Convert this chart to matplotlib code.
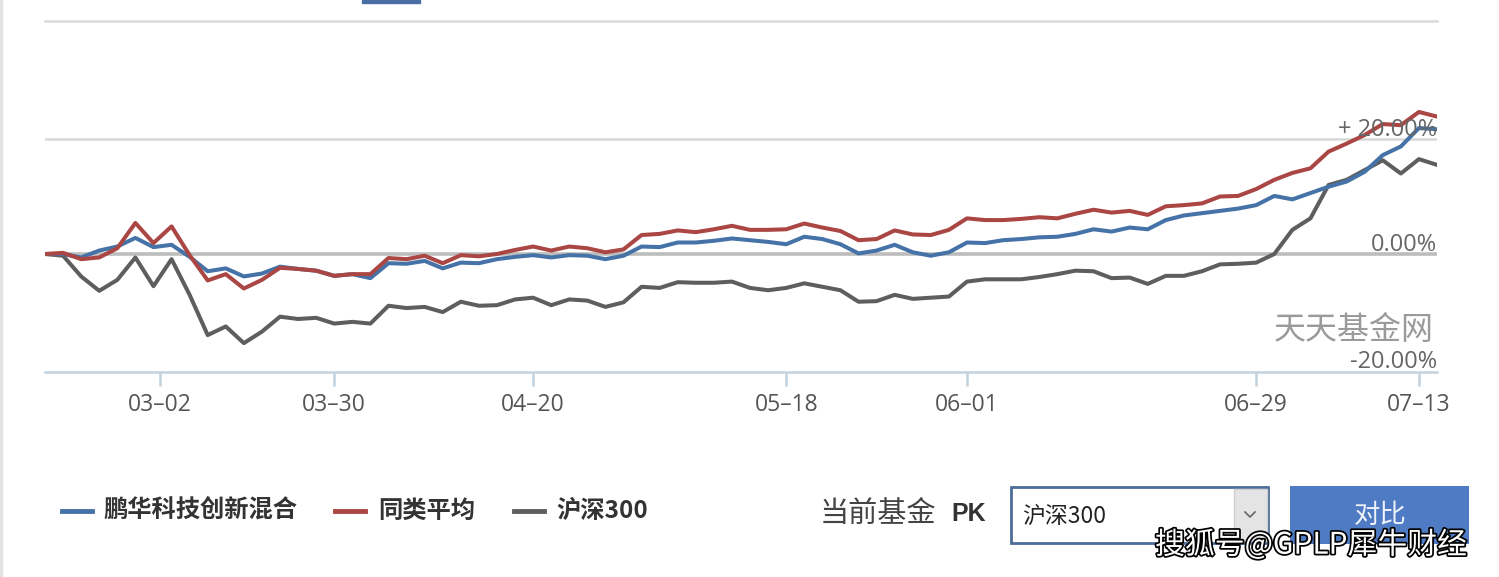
import matplotlib
matplotlib.use("Agg")
import matplotlib.pyplot as plt
import matplotlib.patheffects as pe
from matplotlib.patches import Rectangle

# 累计收益率 (%), one point per sampled trading day
fund = [0.0, 0.0, -0.6, 0.6, 1.3, 2.8, 1.2, 1.6, -0.5, -3.0,
        -2.5, -3.9, -3.4, -2.2, -2.6, -2.9, -3.8, -3.5, -4.2, -1.6,
        -1.7, -1.2, -2.5, -1.5, -1.6, -0.9, -0.5, -0.2, -0.6, -0.2,
        -0.3, -0.9, -0.3, 1.3, 1.2, 2.0, 2.0, 2.3, 2.7, 2.4,
        2.1, 1.7, 3.0, 2.6, 1.7, 0.1, 0.6, 1.6, 0.3, -0.3,
        0.3, 2.0, 1.9, 2.4, 2.6, 2.9, 3.0, 3.5, 4.3, 3.9,
        4.6, 4.3, 5.9, 6.7, 7.1, 7.5, 7.9, 8.5, 10.1, 9.5,
        10.6, 11.7, 12.6, 14.3, 17.2, 18.7, 21.9, 21.7]
peers = [0.0, 0.2, -0.9, -0.6, 1.0, 5.4, 1.9, 4.8, -0.2, -4.6,
         -3.5, -6.0, -4.5, -2.4, -2.6, -2.9, -3.8, -3.5, -3.5, -0.7,
         -0.9, -0.3, -1.6, -0.2, -0.4, 0.0, 0.7, 1.3, 0.6, 1.3,
         1.0, 0.3, 0.8, 3.3, 3.5, 4.1, 3.8, 4.3, 4.9, 4.2,
         4.2, 4.3, 5.3, 4.6, 4.0, 2.4, 2.6, 4.1, 3.4, 3.3,
         4.2, 6.2, 5.9, 5.9, 6.1, 6.4, 6.2, 7.0, 7.7, 7.2,
         7.5, 6.8, 8.3, 8.5, 8.8, 10.0, 10.1, 11.3, 12.9, 14.1,
         14.9, 17.8, 19.2, 20.7, 22.6, 22.4, 24.7, 23.9]
hs300 = [0.0, -0.3, -3.9, -6.4, -4.5, -0.6, -5.6, -0.9, -7.1, -14.1,
         -12.6, -15.5, -13.5, -10.9, -11.3, -11.1, -12.1, -11.8, -12.1, -9.0,
         -9.4, -9.2, -10.1, -8.3, -9.0, -8.9, -7.9, -7.6, -8.9, -7.9,
         -8.1, -9.2, -8.4, -5.7, -5.9, -4.9, -5.0, -5.0, -4.8, -5.9,
         -6.3, -5.9, -5.1, -5.7, -6.3, -8.3, -8.2, -7.1, -7.8, -7.6,
         -7.4, -4.8, -4.4, -4.4, -4.4, -4.0, -3.5, -2.9, -3.0, -4.2,
         -4.1, -5.2, -3.8, -3.8, -3.0, -1.8, -1.7, -1.5, 0.0, 4.2,
         6.2, 12.0, 12.9, 14.6, 16.3, 14.0, 16.5, 15.5]

tick_pos = [6.35, 16, 27, 41, 51, 67, 76]
tick_labels = ["03–02", "03–30", "04–20", "05–18", "06–01", "06–29", "07–13"]

series_names = ["鹏华科技创新混合", "同类平均", "沪深300"]
colors = ["#4572A7", "#AA4643", "#5E5E5E"]

cjk = ["Noto Sans CJK SC", "DejaVu Sans"]

fig = plt.figure(figsize=(14.99, 5.77), dpi=100)

# background layer in pixel coordinates for the page decorations
bg = fig.add_axes([0, 0, 1, 1])
bg.set_xlim(0, 1499)
bg.set_ylim(577, 0)
bg.axis("off")

ax = fig.add_axes([45 / 1499, 205 / 577, 1392 / 1499, 351 / 577])
x = list(range(len(fund)))

ax.axhline(20, color="#d8d8d8", lw=1.8, zorder=1)
ax.axhline(0, color="#bdbdbd", lw=2.6, zorder=1)

ax.plot(x, hs300, color=colors[2], lw=2.9, zorder=3)
ax.plot(x, fund, color=colors[0], lw=2.9, zorder=4)
ax.plot(x, peers, color=colors[1], lw=2.9, zorder=5)

ax.set_xlim(0, 77)
ax.set_ylim(-20.52, 40.52)
for s in ["left", "right"]:
    ax.spines[s].set_visible(False)
ax.spines["top"].set_color("#dadada")
ax.spines["top"].set_linewidth(1.8)
ax.spines["bottom"].set_color("#c3d3de")
ax.spines["bottom"].set_linewidth(1.8)
ax.set_yticks([])
ax.set_xticks(tick_pos)
ax.set_xticklabels(tick_labels, fontsize=16.5, color="#555555", family="Open Sans")
ax.tick_params(axis="x", length=10, width=1.8, color="#c3d3de", pad=5)

lab_kw = dict(ha="right", va="baseline", fontsize=17, color="#666666", family="Open Sans", zorder=6)
ax.text(77, 20.5, "+ 20.00%", **lab_kw)
ax.text(77, 0.5, "0.00%", **lab_kw)
ax.text(77, -19.9, "-20.00%", **lab_kw)
ax.text(76.8, -14.8, "天天基金网", ha="right", va="baseline", fontsize=23,
        color="#9a9a9a", family=cjk, zorder=6)

# frame details
bg.plot([1, 1], [0, 577], color="#e2e2e2", lw=2.5)
bg.add_patch(Rectangle((362, 0), 58, 3, color="#4a6fa5"))

# legend
leg_x = [(62, 103), (335, 378), (514, 556)]
for (lx, tx), name, c in zip(leg_x, series_names, colors):
    bg.plot([lx, lx + 30], [511, 511], color=c, lw=3.5)
    bg.text(tx, 511, name, ha="left", va="center", fontsize=17.5, fontweight="bold",
            color="#333333", family=cjk)

# compare controls
bg.text(820, 514, "当前基金", ha="left", va="center", fontsize=21, color="#444444", family=cjk)
bg.text(951, 514, "PK", ha="left", va="center", fontsize=18, fontweight="bold",
        color="#333333", family="Liberation Sans")
bg.add_patch(Rectangle((1011, 487), 257, 56, facecolor="white", edgecolor="#4d6d99", lw=2))
bg.add_patch(Rectangle((1234, 489), 33, 52, facecolor="#e4e4e4", edgecolor="#d0d0d0", lw=1))
bg.plot([1245, 1250, 1255], [512, 517, 512], color="#666666", lw=1.2)
bg.text(1022, 516, "沪深300", ha="left", va="center", fontsize=16.5, color="#222222", family=cjk)
bg.add_patch(Rectangle((1290, 486), 179, 58, facecolor="#4f7bc4", edgecolor="none"))
bg.text(1380, 515, "对比", ha="center", va="center", fontsize=19, color="#eef2fa", family=cjk)

bg.text(1311, 545, "搜狐号@GPLP犀牛财经", ha="center", va="center", fontsize=21.5,
        color="white", family=cjk,
        path_effects=[pe.withStroke(linewidth=2.5, foreground="black")])

fig.savefig("out.png", dpi=100)
